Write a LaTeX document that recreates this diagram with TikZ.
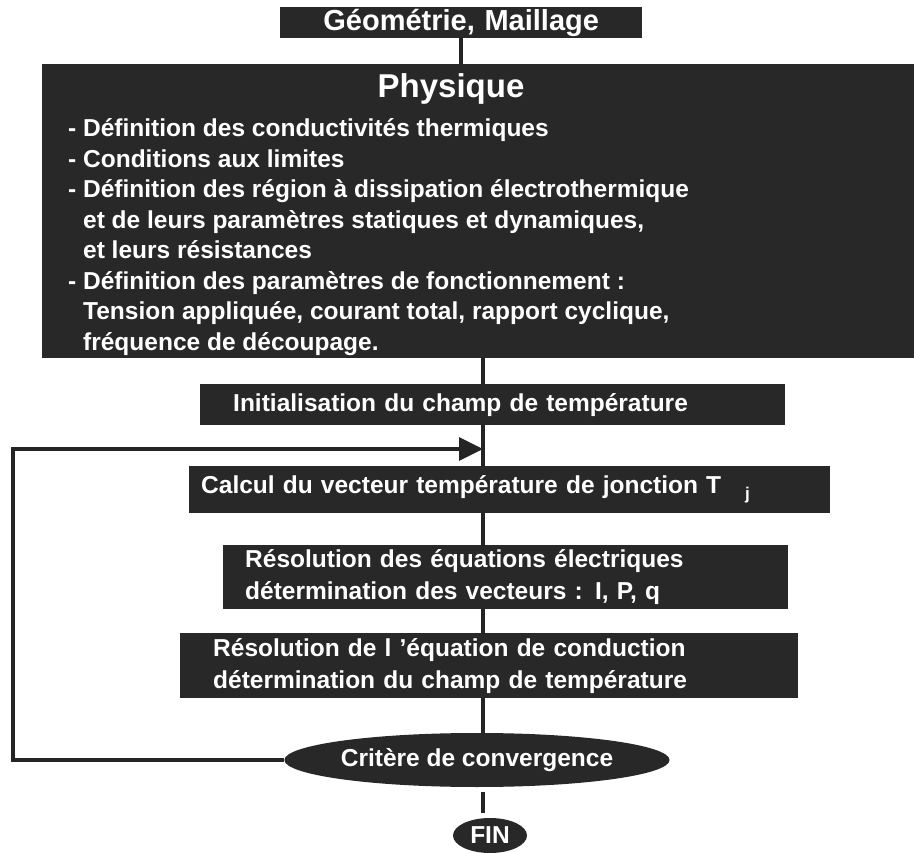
\documentclass[tikz,border=0pt]{standalone}
\usepackage{fontspec}
\setmainfont{Liberation Sans}
\usepackage{tikz}
\usetikzlibrary{positioning,shapes.geometric,arrows.meta}
\definecolor{boxgrey}{RGB}{40,40,40}
\definecolor{linegrey}{RGB}{36,36,36}

\begin{document}
\begin{tikzpicture}[x=1pt, y=-1pt, >={Triangle[length=24pt,width=23pt]},
	stage/.style={rectangle, fill=boxgrey, text=white, anchor=north west, align=left, inner ysep=0pt,
		font=\fontsize{24.5}{32}\selectfont\bfseries},
	oval/.style={ellipse, fill=boxgrey, text=white, inner sep=0pt, font=\fontsize{24.5}{32}\selectfont\bfseries},
	bodyline/.style={anchor=base west, text=white, inner sep=0pt, font=\fontsize{24.5}{31}\selectfont\bfseries},
	flow/.style={draw=linegrey, line width=3.5pt}]
		\useasboundingbox (0,0) rectangle (914,853);
		
		\node [stage, align=center, inner xsep=0pt, text width=362, minimum height=31,
		font=\fontsize{29}{29}\selectfont\bfseries] (geom) at (280,7) {Géométrie, Maillage};
		
		\node [fill=boxgrey, anchor=north west, inner sep=0pt, minimum width=872, minimum height=294] (phys) at (42,64) {};
		\node [text=white, anchor=base, inner sep=0pt, font=\fontsize{33}{33}\selectfont\bfseries] (phys-title) at (451,98) {Physique};
		\foreach \txt [count=\i] in {{- Définition des conductivités thermiques},
			{- Conditions aux limites},
			{- Définition des région à dissipation électrothermique},
			{\hphantom{- }et de leurs paramètres statiques et dynamiques,},
			{\hphantom{- }et leurs résistances},
			{- Définition des paramètres de fonctionnement :},
			{\hphantom{- }Tension appliquée, courant total, rapport cyclique,},
			{\hphantom{- }fréquence de découpage.}}
		\node [bodyline] (phys-line-\i) at (68,{137+(\i-1)*30.5}) {\txt};
		
		\node [stage, inner xsep=33pt, text width=519, minimum height=41] (init) at (200,384)
		{Initialisation du champ de température};
		\node [stage, inner xsep=12pt, text width=617, minimum height=47] (calc) at (189,466)
		{Calcul du vecteur température de jonction T\hspace{24pt}\raisebox{-6pt}{\fontsize{17}{17}\selectfont j}};
		\node [stage, inner xsep=22pt, text width=521, minimum height=64] (res-elec) at (223,545)
		{Résolution des équations électriques\\détermination des vecteurs : I, P, q};
		\node [stage, inner xsep=33pt, text width=552, minimum height=65] (res-cond) at (180,633)
		{Résolution de l ’équation de conduction\\détermination du champ de température};
		
		\node [oval, minimum width=380, minimum height=54] (crit) at (477,760) {Critère de convergence};
		\node [oval, minimum width=74, minimum height=35] (fin) at (490,835.5) {FIN};
		
		\coordinate (trunk) at (483,0);
		\coordinate (loop-in) at (483,449);
		\coordinate (loop-left) at (13,449);
		
		\draw [flow] (geom.south) -- (geom.south |- phys.north);
		\draw [flow] (phys.south -| trunk) -- (init.north -| trunk);
		\draw [flow] (init.south -| trunk) -- (calc.north -| trunk);
		\draw [flow] (calc.south -| trunk) -- (res-elec.north -| trunk);
		\draw [flow] (res-elec.south -| trunk) -- (res-cond.north -| trunk);
		\draw [flow] (res-cond.south -| trunk) -- (crit.north -| trunk);
		\draw [flow, shorten <=5pt, shorten >=5pt] (crit.south -| trunk) -- (fin.north -| trunk);
		\draw [flow, ->] (crit.west) -| (loop-left) -- (loop-in);
		
	\end{tikzpicture}
\end{document}
